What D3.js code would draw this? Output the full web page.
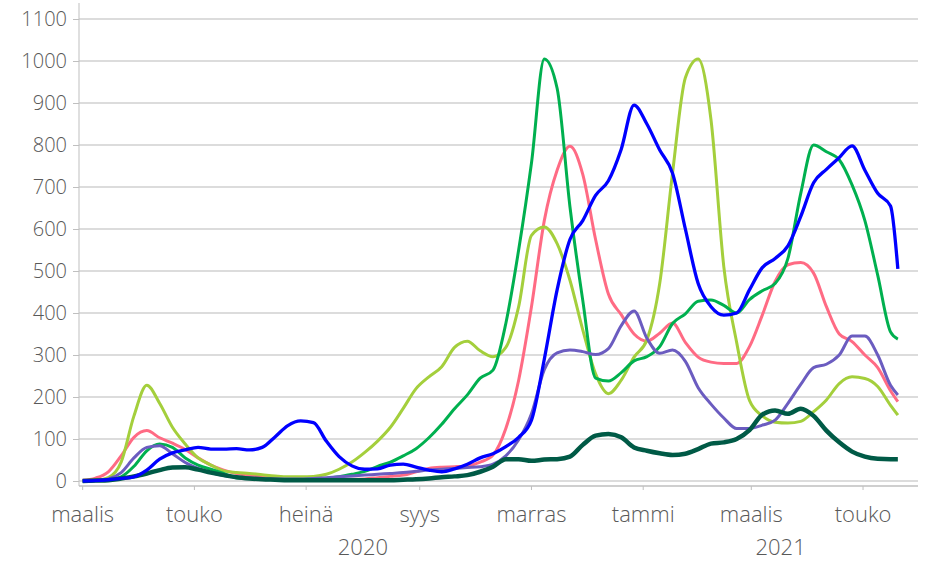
<!DOCTYPE html>
<html>
<head>
<meta charset="utf-8">
<script src="https://cdn.jsdelivr.net/npm/d3@7"></script>
<style>
  body { margin: 0; background: #fff; overflow: hidden; }
  text { font-family: "Open Sans", sans-serif; font-weight: 300; fill: #595959; }
</style>
</head>
<body>
<div id="chart"></div>
<script>
// weekly dates, last point is the final day of data
const dates = [
  "2020-03-01","2020-03-08","2020-03-15","2020-03-22","2020-03-29","2020-04-05","2020-04-12","2020-04-19","2020-04-26",
  "2020-05-03","2020-05-10","2020-05-17","2020-05-24","2020-05-31","2020-06-07","2020-06-14","2020-06-21","2020-06-28",
  "2020-07-05","2020-07-12","2020-07-19","2020-07-26","2020-08-02","2020-08-09","2020-08-16","2020-08-23","2020-08-30",
  "2020-09-06","2020-09-13","2020-09-20","2020-09-27","2020-10-04","2020-10-11","2020-10-18","2020-10-25","2020-11-01",
  "2020-11-08","2020-11-15","2020-11-22","2020-11-29","2020-12-06","2020-12-13","2020-12-20","2020-12-27","2021-01-03",
  "2021-01-10","2021-01-17","2021-01-24","2021-01-31","2021-02-07","2021-02-14","2021-02-21","2021-02-28","2021-03-07",
  "2021-03-14","2021-03-21","2021-03-28","2021-04-04","2021-04-11","2021-04-18","2021-04-25","2021-05-02","2021-05-09",
  "2021-05-16","2021-05-20"
]

const pink = [2,7,22,60,104,120,103,90,75,55,38,26,18,13,10,8,7,6,5,4,4,4,5,8,11,14,22,30,33,34,36,45,62,125,240,415,
  620,740,797,730,575,445,396,350,333,352,376,330,295,283,280,280,320,395,475,515,520,495,415,350,332,300,270,215,189]
const lightGreen = [0,1,8,45,155,228,185,128,88,55,38,24,20,18,15,12,10,10,11,16,28,45,68,95,128,173,220,248,272,318,333,
  310,296,318,415,585,605,565,478,360,255,208,240,295,336,470,733,960,1005,860,510,330,192,155,140,138,142,165,193,232,248,244,225,180,157]
const green = [0,1,3,10,35,72,88,80,55,38,28,18,8,6,5,4,4,4,5,6,10,16,23,35,45,60,77,103,135,172,205,245,264,375,550,757,
  1005,935,653,430,245,238,258,286,296,320,375,398,428,431,418,400,432,453,470,530,685,800,784,765,705,620,490,355,338]
const purple = [0,1,5,20,55,80,84,65,44,30,20,13,9,7,6,5,5,5,6,8,10,12,14,16,18,20,23,26,28,30,32,34,40,60,98,160,
  265,305,312,308,301,315,370,405,340,304,312,285,222,183,150,125,125,133,145,185,230,270,278,300,345,345,300,228,205]
const darkGreen = [0,1,2,6,11,18,26,32,33,27,20,14,9,6,4,3,2,2,2,2,2,2,2,2,2,3,4,6,9,11,14,22,34,52,52,48,
  51,52,58,86,108,112,104,80,72,66,62,65,76,89,92,100,121,158,168,160,172,155,120,92,70,58,53,52,52]
const blue = [0,1,3,6,10,26,52,67,74,80,76,76,77,74,80,105,132,143,139,95,58,36,28,29,38,40,33,26,22,29,40,55,65,82,104,145,
  290,455,575,620,680,715,790,895,850,788,733,600,470,415,395,400,455,508,530,560,630,710,742,770,798,740,685,655,505]

const yTicks = [0,100,200,300,400,500,600,700,800,900,1000,1100]
const monthTicks = ["2020-03-01","2020-05-01","2020-07-01","2020-09-01","2020-11-01","2021-01-01","2021-03-01","2021-05-01"]
const monthLabels = ["maalis","touko","heinä","syys","marras","tammi","maalis","touko"]
const years = ["2020","2021"]

const width = 928
const height = 563
const parse = d3.timeParse("%Y-%m-%d")

const svg = d3.select("#chart").append("svg")
    .attr("width", width)
    .attr("height", height)
    .style("display", "block")

const x = d3.scaleTime()
    .domain([new Date(2020, 1, 28), new Date(2021, 4, 31)])
    .range([79, 918])

const y = d3.scaleLinear()
    .domain([0, 1100])
    .range([481, 19])

// gridlines
svg.append("g")
    .selectAll("line")
    .data(yTicks)
    .join("line")
        .attr("x1", 79)
        .attr("x2", 918)
        .attr("y1", d => y(d))
        .attr("y2", d => y(d))
        .attr("stroke", "#d0d0d0")
        .attr("stroke-width", 1.3)

// y axis
const yAxis = svg.append("g")
    .attr("transform", "translate(79,0)")
    .call(d3.axisLeft(y).tickValues(yTicks).tickFormat(d3.format("d")).tickSize(6).tickPadding(6).tickSizeOuter(0))
yAxis.select(".domain").attr("d", "M0,3V486").attr("stroke", "#bfbfbf")
yAxis.selectAll(".tick line").attr("stroke", "#bfbfbf")
yAxis.selectAll(".tick text")
    .style("font-size", "20px")
    .attr("fill", "#595959")
    .attr("font-family", null)

// x axis (sits a little below the zero line)
const axisY = y(0) + 5
svg.append("line")
    .attr("x1", 79).attr("x2", 918)
    .attr("y1", axisY).attr("y2", axisY)
    .attr("stroke", "#bfbfbf")
    .attr("stroke-width", 1.3)

svg.append("g")
    .selectAll("line")
    .data(monthTicks)
    .join("line")
        .attr("x1", d => x(parse(d)))
        .attr("x2", d => x(parse(d)))
        .attr("y1", axisY)
        .attr("y2", axisY + 4)
        .attr("stroke", "#bfbfbf")

svg.append("g")
    .selectAll("text")
    .data(monthTicks)
    .join("text")
        .attr("x", d => x(parse(d)))
        .attr("y", 522)
        .attr("text-anchor", "middle")
        .style("font-size", "22px")
        .text((d, i) => monthLabels[i])

// year labels centred under their span
const yearSpan = [
    [x(parse("2020-03-01")), x(parse("2021-01-01"))],
    [x(parse("2021-01-01")), 918]
]
svg.append("g")
    .selectAll("text")
    .data(years)
    .join("text")
        .attr("x", (d, i) => (yearSpan[i][0] + yearSpan[i][1]) / 2)
        .attr("y", 555)
        .attr("text-anchor", "middle")
        .style("font-size", "22px")
        .text(d => d)

// lines
const series = [
    { values: pink, color: "#ff6b84", w: 3 },
    { values: lightGreen, color: "#a4cf3c", w: 3 },
    { values: green, color: "#00b04f", w: 3 },
    { values: purple, color: "#6b5cc0", w: 3 },
    { values: darkGreen, color: "#005a46", w: 4.5 },
    { values: blue, color: "#0000ff", w: 3.3 }
]

const line = d3.line()
    .x((d, i) => x(parse(dates[i])))
    .y(d => y(d))
    .curve(d3.curveMonotoneX)

svg.append("g")
    .selectAll("path")
    .data(series)
    .join("path")
        .attr("fill", "none")
        .attr("stroke", d => d.color)
        .attr("stroke-width", d => d.w)
        .attr("stroke-linejoin", "round")
        .attr("d", d => line(d.values))
</script>
</body>
</html>
